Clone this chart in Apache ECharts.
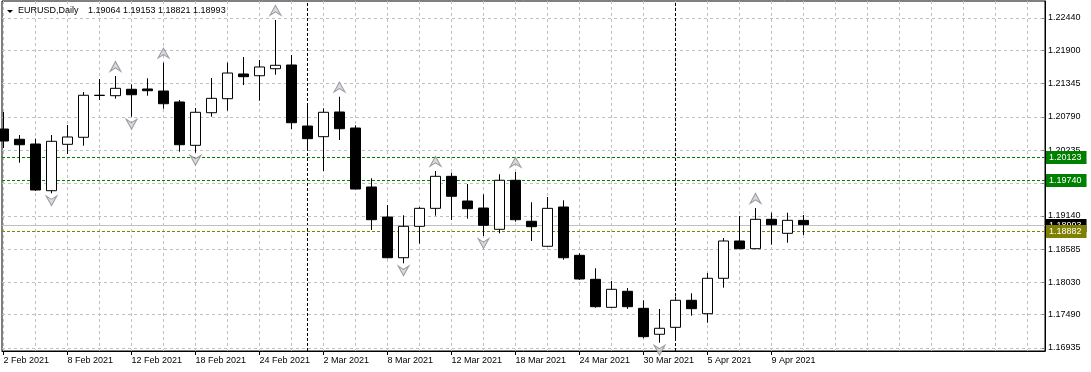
<!DOCTYPE html>
<html><head><meta charset="utf-8">
<script src="https://cdn.jsdelivr.net/npm/echarts@6/dist/echarts.min.js"></script>
<style>html,body{margin:0;padding:0;background:#fff}#c{width:1091px;height:372px}</style>
</head><body><div id="c"></div>
<script>
const symbolName = 'EURUSD';
const timeframe = 'Daily';
const dates = ['2 Feb 2021','3 Feb 2021','4 Feb 2021','5 Feb 2021','8 Feb 2021','9 Feb 2021','10 Feb 2021','11 Feb 2021','12 Feb 2021','15 Feb 2021','16 Feb 2021','17 Feb 2021','18 Feb 2021','19 Feb 2021','22 Feb 2021','23 Feb 2021','24 Feb 2021','25 Feb 2021','26 Feb 2021','1 Mar 2021','2 Mar 2021','3 Mar 2021','4 Mar 2021','5 Mar 2021','8 Mar 2021','9 Mar 2021','10 Mar 2021','11 Mar 2021','12 Mar 2021','15 Mar 2021','16 Mar 2021','17 Mar 2021','18 Mar 2021','19 Mar 2021','22 Mar 2021','23 Mar 2021','24 Mar 2021','25 Mar 2021','26 Mar 2021','29 Mar 2021','30 Mar 2021','31 Mar 2021','1 Apr 2021','2 Apr 2021','5 Apr 2021','6 Apr 2021','7 Apr 2021','8 Apr 2021','9 Apr 2021','12 Apr 2021','13 Apr 2021'];
const open  = [1.20588,1.20417,1.20338,1.19559,1.20333,1.20450,1.21147,1.21144,1.21251,1.21256,1.21222,1.21039,1.20316,1.20860,1.21094,1.21506,1.21477,1.21594,1.21656,1.20638,1.20460,1.20872,1.20605,1.19621,1.19120,1.18441,1.18965,1.19265,1.19799,1.19387,1.19270,1.18915,1.19733,1.19049,1.18632,1.19287,1.18481,1.18081,1.17614,1.17881,1.17597,1.17164,1.17280,1.17731,1.17507,1.18098,1.18720,1.18592,1.19082,1.18848,1.19064];
const close = [1.20388,1.20326,1.19571,1.20383,1.20455,1.21151,1.21152,1.21267,1.21160,1.21227,1.21010,1.20326,1.20867,1.21100,1.21522,1.21461,1.21623,1.21651,1.20693,1.20427,1.20867,1.20593,1.19587,1.19075,1.18441,1.18965,1.19265,1.19799,1.19466,1.19259,1.18982,1.19733,1.19075,1.18959,1.19265,1.18441,1.18086,1.17624,1.17914,1.17624,1.17124,1.17264,1.17731,1.17591,1.18098,1.18720,1.18592,1.19082,1.18992,1.19065,1.18993];
const high  = [1.20872,1.20488,1.20427,1.20488,1.20655,1.21206,1.21422,1.21472,1.21334,1.21434,1.21694,1.21072,1.20939,1.21439,1.21694,1.21789,1.21739,1.22407,1.21823,1.21005,1.20934,1.21127,1.20650,1.19766,1.19320,1.19149,1.19287,1.19888,1.19859,1.19671,1.19499,1.19833,1.19871,1.19366,1.19454,1.19399,1.18515,1.18265,1.18053,1.17936,1.17731,1.17586,1.17791,1.17848,1.18186,1.18770,1.19137,1.19270,1.19192,1.19192,1.19153];
const low   = [1.20271,1.20026,1.19554,1.19516,1.20171,1.20310,1.21072,1.21094,1.20793,1.21144,1.20927,1.20210,1.20193,1.20793,1.20894,1.21322,1.21060,1.21494,1.20588,1.20266,1.19888,1.20405,1.19579,1.18903,1.18431,1.18348,1.18675,1.19142,1.19070,1.19092,1.18803,1.18848,1.19042,1.18720,1.18625,1.18408,1.18069,1.17607,1.17605,1.17586,1.17097,1.17023,1.17057,1.17474,1.17357,1.17941,1.18585,1.18581,1.18658,1.18692,1.18821];
const yTickValues = [1.22440,1.21900,1.21345,1.20790,1.20235,1.19685,1.19140,1.18585,1.18030,1.17490,1.16935];
const upFractalBars = [7,10,17,21,27,32,47];
const downFractalBars = [3,8,12,25,30,41];
const periodSeparators = ['1 Mar 2021','1 Apr 2021'];
const greenLevels = [1.20123,1.19740];
const oliveLevels = [1.18882];

const N = dates.length;
const fontFamily = '"Liberation Sans", Arial, sans-serif';
const fmt = v => Number(v).toFixed(5);
const labelIdx = dates.map((d,i)=>i).filter(i=>i%4===0);
const gridIdx = []; for (let i=0;i<=64;i+=2) gridIdx.push(i);
const xMin = -0.09375, xMax = xMin + 1043/16;
const yMin = 1.16885, yMax = 1.227236;

const candleData = dates.map((d,i)=>[i, open[i], close[i], low[i], high[i]]);

function levelSeries(values, lineColor, dashed, labelBg) {
  return {type:'custom', xAxisIndex:0, yAxisIndex:0, z:1, silent:true, clip:false,
    data: values.map(v=>[0, v]), encode:{x:0, y:1},
    renderItem:(params, api)=>{
      const cs = params.coordSys;
      const v = api.value(1);
      const y = Math.round(api.coord([0, v])[1]) + 0.5;
      return {type:'group', children:[
        {type:'line', shape:{x1:cs.x, y1:y, x2:cs.x+cs.width, y2:y},
         style:{stroke:lineColor, lineWidth:1, lineDash: dashed ? [3,2] : null}},
        {type:'text', x:cs.x+cs.width+1, y:y,
         style:{text:fmt(v), fill:'#fff', backgroundColor:labelBg, padding:[1,5,1,3],
                fontSize:9, lineHeight:11, fontFamily, verticalAlign:'middle', align:'left'}}
      ]};
    }};
}

const arrowUp = 'path://M6,0 L12,10 L6,6.5 L0,10 Z';
const arrowDown = 'path://M0,0 L6,3.5 L12,0 L6,10 Z';

const option = {
  animation:false,
  backgroundColor:'#ffffff',
  grid:{left:2,right:46,top:1,bottom:21,show:true,borderColor:'#000',borderWidth:1,backgroundColor:'transparent'},
  xAxis:[
    {type:'value',min:xMin,max:xMax,position:'bottom',
     axisLine:{show:true,onZero:false,lineStyle:{color:'#000',width:1}},
     axisTick:{show:true,length:4,customValues:labelIdx,lineStyle:{color:'#000'}},
     axisLabel:{customValues:labelIdx,formatter:v=>dates[Math.round(v)],align:'left',margin:5,color:'#000',fontSize:9,fontFamily},
     splitLine:{show:false}},
    {type:'value',min:xMin,max:xMax,position:'bottom',
     axisLine:{show:false},axisTick:{show:false,customValues:gridIdx},axisLabel:{show:false},
     splitLine:{show:true,lineStyle:{color:'#c0c0c0',type:[3,3],width:1}}}
  ],
  yAxis:{type:'value',position:'right',min:yMin,max:yMax,
     axisLine:{show:true,onZero:false,lineStyle:{color:'#000',width:1}},
     axisTick:{show:true,inside:true,length:3,customValues:yTickValues,lineStyle:{color:'#808080'}},
     axisLabel:{customValues:yTickValues,formatter:v=>fmt(v),margin:3,color:'#000',fontSize:9,fontFamily},
     splitLine:{show:true,lineStyle:{color:'#c0c0c0',type:[3,3],width:1}}},
  series:[
    {type:'line', xAxisIndex:0, data:[], z:1, silent:true,
     markLine:{silent:true, z:1, symbol:['none','none'], animation:false, label:{show:false},
       lineStyle:{color:'#000', type:[3,2], width:1},
       data: periodSeparators.map(s=>({xAxis:dates.indexOf(s)}))}},
    levelSeries(greenLevels, '#008000', true, '#008000'),
    levelSeries([close[N-1]], '#c0c0c0', false, '#000000'),
    levelSeries(oliveLevels, '#808000', true, '#808000'),
    {type:'candlestick',xAxisIndex:0,yAxisIndex:0,data:candleData,barWidth:10,clip:true,z:2,
     itemStyle:{color:'#ffffff',color0:'#000000',borderColor:'#000000',borderColor0:'#000000',borderWidth:1}},
    {type:'scatter',xAxisIndex:0,data:upFractalBars.map(i=>[i,high[i]]),symbol:arrowUp,symbolSize:[11,10],symbolOffset:[0,-9.6],
     itemStyle:{color:'#cfcfd6',borderColor:'#86868f',borderWidth:1},z:3,silent:true},
    {type:'scatter',xAxisIndex:0,data:downFractalBars.map(i=>[i,low[i]]),symbol:arrowDown,symbolSize:[11,10],symbolOffset:[0,7.5],
     itemStyle:{color:'#cfcfd6',borderColor:'#86868f',borderWidth:1},z:3,silent:true}
  ],
  graphic:[
    {type:'polygon',shape:{points:[[7,10],[13,10],[10,13]]},style:{fill:'#000'},z:10},
    {type:'text',x:18,y:11,style:{text:symbolName+','+timeframe,fontSize:9,fontFamily,fill:'#000',verticalAlign:'middle'},z:10},
    {type:'text',x:88,y:11,style:{text:[open[N-1],high[N-1],low[N-1],close[N-1]].map(fmt).join(' '),fontSize:9,fontFamily,fill:'#000',verticalAlign:'middle'},z:10}
  ]
};
echarts.init(document.getElementById('c')).setOption(option);
</script></body></html>
